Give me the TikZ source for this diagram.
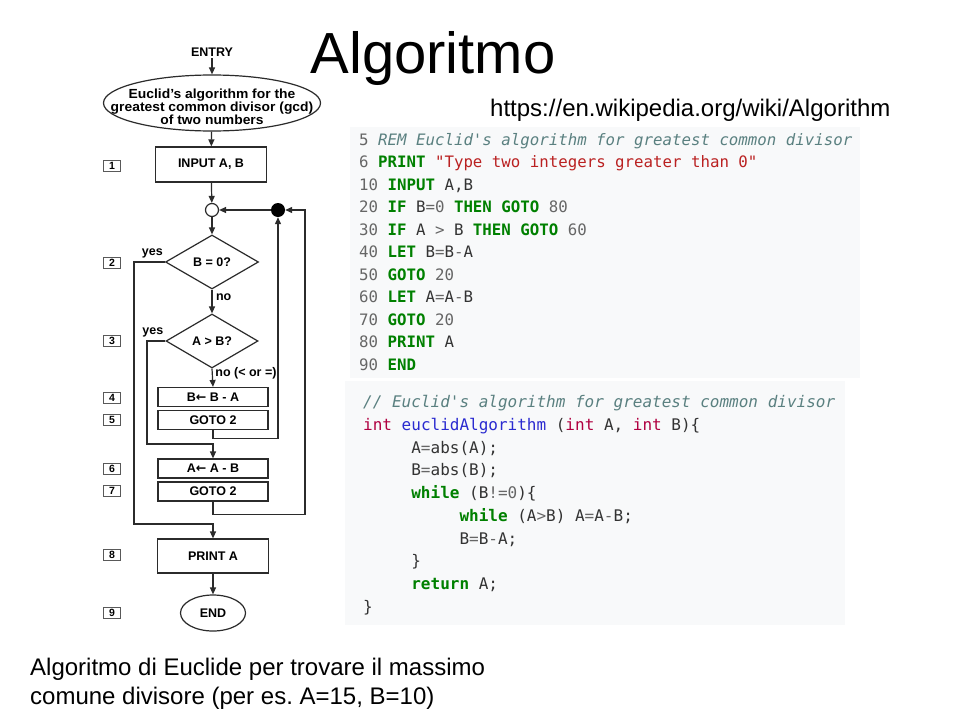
\documentclass[tikz,border=0pt]{standalone}
\usepackage{fontspec}
\setmainfont{Liberation Sans}
\setmonofont{DejaVu Sans Mono}
\newfontfamily\arrowfont{DejaVu Sans}
\usetikzlibrary{shapes.geometric,arrows.meta}
\definecolor{lc}{HTML}{2B2B2B}
\definecolor{kwc}{HTML}{008000}
\definecolor{cmc}{HTML}{5A8080}
\definecolor{strc}{HTML}{BA2121}
\definecolor{numc}{HTML}{666666}
\definecolor{txc}{HTML}{333333}
\definecolor{tyc}{HTML}{B00040}
\definecolor{fnc}{HTML}{2A2AD0}
\definecolor{panelc}{HTML}{F8F9FA}
\newcommand\kw[1]{{\bfseries\color{kwc}#1}}
\newcommand\ccom[1]{{\itshape\color{cmc}#1}}
\newcommand\cstr[1]{{\color{strc}#1}}
\newcommand\cnum[1]{{\color{numc}#1}}
\newcommand\cop[1]{{\color{numc}#1}}
\newcommand\cty[1]{{\color{tyc}#1}}
\newcommand\cfn[1]{{\color{fnc}#1}}
\newcommand\larr{{\arrowfont\bfseries ←}}
\newcommand\ftext{\fontsize{12.5}{14}\selectfont\bfseries}
\newcommand\codeA{\ttfamily\fontsize{15.75}{18}\selectfont}
\newcommand\codeB{\ttfamily\fontsize{16}{18}\selectfont}
\frenchspacing
\begin{document}
\begin{tikzpicture}[x=1pt,y=-1pt,
  arr/.style={draw=lc, line width=1.2pt, -{Triangle[length=7pt,width=6pt]}},
  fbox/.style={draw=lc, line width=1.2pt, inner sep=0, font=\ftext, text=black},
  numbox/.style={draw=black!65, line width=0.8pt, minimum width=17pt, minimum height=11pt, inner sep=0, font=\fontsize{10.5}{11}\selectfont\bfseries},
  lbl/.style={font=\ftext, inner sep=1.5pt},
  etxt/.style={anchor=base, inner sep=0, xscale=1.05, font=\fontsize{13.2}{14}\selectfont\bfseries},
  codeA/.style={anchor=base west, inner sep=0, font=\codeA, text=txc},
  codeB/.style={anchor=base west, inner sep=0, font=\codeB, text=txc}]
\useasboundingbox (0,0) rectangle (960,720);
\fill[white] (0,0) rectangle (960,720);

% title, url, caption
\node[anchor=base, inner sep=0, font=\fontsize{58}{60}\selectfont] (title) at (433,73) {Algoritmo};
\node[anchor=base west, inner sep=0, font=\fontsize{24}{28}\selectfont] (url) at (490,116) {https://en.wikipedia.org/wiki/Algorithm};
\node[anchor=base west, inner sep=0, font=\fontsize{24}{28}\selectfont] (cap1) at (30,675) {Algoritmo di Euclide per trovare il massimo};
\node[anchor=base west, inner sep=0, font=\fontsize{24}{28}\selectfont] (cap2) at (30,704) {comune divisore (per es. A=15, B=10)};

% ---------- flowchart ----------
\node[lbl] (entry) at (212,52) {ENTRY};
\node[draw=lc, line width=1.2pt, ellipse, minimum width=217pt, minimum height=56pt, inner sep=0] (gcd) at (212,103) {};
\node[etxt] (g1) at (212,98.5) {Euclid's algorithm for the};
\node[etxt] (g2) at (212,111.5) {greatest common divisor (gcd)};
\node[etxt] (g3) at (212,124.5) {of two numbers};
\node[fbox, minimum width=111pt, minimum height=35pt] (input) at (211,164.5) {INPUT A, B};
\node[circle, draw=lc, line width=1.2pt, fill=white, minimum size=13pt, inner sep=0] (join) at (212,210) {};
\node[circle, fill=black, minimum size=14pt, inner sep=0] (dot) at (278,210) {};
\node[fbox, diamond, minimum width=93pt, minimum height=54pt] (d1) at (212,262) {B = 0?};
\node[fbox, diamond, minimum width=92pt, minimum height=54pt] (d2) at (212,341) {A > B?};
\node[fbox, minimum width=110pt, minimum height=19pt] (b4) at (213,397) {B\larr\ B - A};
\node[fbox, minimum width=110pt, minimum height=19pt] (b5) at (213,420) {GOTO 2};
\node[fbox, minimum width=110pt, minimum height=19pt] (b6) at (213,468.5) {A\larr\ A - B};
\node[fbox, minimum width=110pt, minimum height=19pt] (b7) at (213,491.5) {GOTO 2};
\node[fbox, minimum width=111pt, minimum height=34pt] (print) at (213,556) {PRINT A};
\node[fbox, ellipse, minimum width=65pt, minimum height=36pt] (end) at (213,613) {END};

\node[numbox] (n1) at (112,166) {1};
\node[numbox] (n2) at (112,263) {2};
\node[numbox] (n3) at (112,341) {3};
\node[numbox] (n4) at (112,398) {4};
\node[numbox] (n5) at (112,420) {5};
\node[numbox] (n6) at (112,469) {6};
\node[numbox] (n7) at (112,491) {7};
\node[numbox] (n8) at (112,555) {8};
\node[numbox] (n9) at (112,613) {9};

\coordinate (y1a) at (134,524);
\coordinate (y2a) at (147,444);
\coordinate (rtop) at (305,210);

\draw[arr] (entry) -- (gcd);
\draw[arr] (gcd) -- (input);
\draw[arr] (input) -- (join);
\draw[arr] (join) -- (d1);
\draw[arr] (d1.south) -- (d2.north) node[lbl, pos=0.3, anchor=west, xshift=2pt] (no1) {no};
\draw[arr] (d2.south) -- (b4.north) node[lbl, pos=0.28, anchor=west, xshift=1pt] (no2) {no (< or =)};
\draw[arr] (d1.west) node[lbl, anchor=south east, yshift=2pt] (yes1) {yes} -| (y1a) -| (print.north);
\draw[arr] (d2.west) node[lbl, anchor=south east, yshift=2pt] (yes2) {yes} -| (y2a) -| (b6.north);
\draw[arr] (b5.south) -- ++(0,8) -| (dot.south);
\draw[arr] (b7.south) -- ++(0,13) -| (rtop) -- (dot);
\draw[arr] (dot) -- (join);
\draw[arr] (print) -- (end);

% ---------- code panels ----------
\fill[panelc] (350,127) rectangle (860,378);
\fill[panelc] (345,381) rectangle (845,625);

\node[codeA] (c1) at (359,145.5) {\cnum{5} \ccom{REM Euclid's algorithm for greatest common divisor}};
\node[codeA] (c2) at (359,167.95) {\cnum{6} \kw{PRINT} \cstr{"Type two integers greater than 0"}};
\node[codeA] (c3) at (359,190.4) {\cnum{10} \kw{INPUT} A,B};
\node[codeA] (c4) at (359,212.85) {\cnum{20} \kw{IF} B\cop{=}\cnum{0} \kw{THEN} \kw{GOTO} \cnum{80}};
\node[codeA] (c5) at (359,235.3) {\cnum{30} \kw{IF} A \cop{>} B \kw{THEN} \kw{GOTO} \cnum{60}};
\node[codeA] (c6) at (359,257.75) {\cnum{40} \kw{LET} B\cop{=}B\cop{-}A};
\node[codeA] (c7) at (359,280.2) {\cnum{50} \kw{GOTO} \cnum{20}};
\node[codeA] (c8) at (359,302.65) {\cnum{60} \kw{LET} A\cop{=}A\cop{-}B};
\node[codeA] (c9) at (359,325.1) {\cnum{70} \kw{GOTO} \cnum{20}};
\node[codeA] (c10) at (359,347.55) {\cnum{80} \kw{PRINT} A};
\node[codeA] (c11) at (359,370) {\cnum{90} \kw{END}};

\node[codeB] (e1) at (363,407.5) {\ccom{// Euclid's algorithm for greatest common divisor}};
\node[codeB] (e2) at (363,430.25) {\cty{int} \cfn{euclidAlgorithm} (\cty{int} A, \cty{int} B)\{};
\node[codeB] (e3) at (411.15,453) {A\cop{=}abs(A);};
\node[codeB] (e4) at (411.15,475.75) {B\cop{=}abs(B);};
\node[codeB] (e5) at (411.15,498.5) {\kw{while} (B\cop{!=}\cnum{0})\{};
\node[codeB] (e6) at (459.3,521.25) {\kw{while} (A\cop{>}B) A\cop{=}A\cop{-}B;};
\node[codeB] (e7) at (459.3,544) {B\cop{=}B\cop{-}A;};
\node[codeB] (e8) at (411.15,566.75) {\}};
\node[codeB] (e9) at (411.15,589.5) {\kw{return} A;};
\node[codeB] (e10) at (363,612.25) {\}};
\end{tikzpicture}
\end{document}
